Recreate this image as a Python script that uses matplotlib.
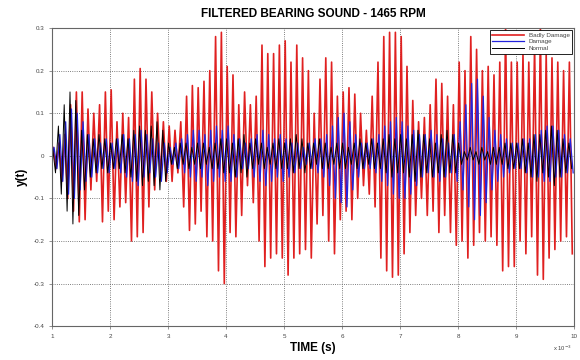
import matplotlib.pyplot as plt
import numpy as np

plt.switch_backend("Agg")
plt.rcParams["font.family"] = ["Liberation Sans", "DejaVu Sans"]

# Peak values, 10 cycles per 1e-3 s unit (t = 1..10 x 1e-3 s)
badly_upper = [
    0.02, 0.03, 0.05, 0.12, 0.15, 0.15, 0.11, 0.10, 0.12, 0.15,
    0.155, 0.08, 0.10, 0.09, 0.18, 0.205, 0.18, 0.15, 0.10, 0.08,
    0.07, 0.06, 0.08, 0.14, 0.165, 0.16, 0.175, 0.20, 0.28, 0.29,
    0.21, 0.19, 0.12, 0.15, 0.12, 0.14, 0.26, 0.24, 0.24, 0.26,
    0.27, 0.22, 0.26, 0.23, 0.20, 0.10, 0.18, 0.23, 0.22, 0.14,
    0.15, 0.16, 0.145, 0.10, 0.06, 0.14, 0.22, 0.28, 0.29, 0.29,
    0.28, 0.21, 0.13, 0.08, 0.09, 0.12, 0.18, 0.17, 0.14, 0.12,
    0.22, 0.20, 0.28, 0.25, 0.20, 0.21, 0.19, 0.22, 0.30, 0.22,
    0.22, 0.24, 0.22, 0.26, 0.30, 0.24, 0.23, 0.22, 0.20, 0.22,
]
badly_lower = [
    -0.03, -0.06, -0.10, -0.13, -0.155, -0.15, -0.08, -0.06, -0.155, -0.13,
    -0.15, -0.12, -0.11, -0.20, -0.19, -0.18, -0.12, -0.08, -0.05, -0.06,
    -0.06, -0.04, -0.12, -0.175, -0.16, -0.13, -0.19, -0.20, -0.27, -0.30,
    -0.18, -0.19, -0.14, -0.07, -0.11, -0.20, -0.26, -0.24, -0.23, -0.24,
    -0.28, -0.24, -0.23, -0.22, -0.24, -0.16, -0.14, -0.20, -0.23, -0.15,
    -0.13, -0.15, -0.10, -0.07, -0.09, -0.12, -0.24, -0.27, -0.285, -0.28,
    -0.23, -0.18, -0.14, -0.10, -0.14, -0.13, -0.18, -0.14, -0.18, -0.21,
    -0.20, -0.24, -0.21, -0.18, -0.20, -0.19, -0.21, -0.27, -0.26, -0.26,
    -0.20, -0.23, -0.19, -0.28, -0.29, -0.24, -0.22, -0.20, -0.19, -0.23,
]

damage_upper = [
    0.02, 0.05, 0.08, 0.11, 0.10, 0.08, 0.05, 0.04, 0.03, 0.04,
    0.03, 0.04, 0.05, 0.04, 0.05, 0.06, 0.05, 0.04, 0.03, 0.03,
    0.02, 0.03, 0.04, 0.05, 0.06, 0.06, 0.05, 0.06, 0.07, 0.06,
    0.07, 0.05, 0.04, 0.03, 0.04, 0.05, 0.06, 0.05, 0.04, 0.05,
    0.04, 0.03, 0.03, 0.02, 0.03, 0.04, 0.04, 0.05, 0.07, 0.09,
    0.10, 0.08, 0.05, 0.03, 0.03, 0.04, 0.05, 0.07, 0.08, 0.09,
    0.08, 0.07, 0.06, 0.05, 0.05, 0.06, 0.05, 0.04, 0.03, 0.05,
    0.08, 0.12, 0.17, 0.18, 0.14, 0.09, 0.06, 0.05, 0.04, 0.03,
    0.03, 0.04, 0.04, 0.05, 0.06, 0.07, 0.07, 0.06, 0.05, 0.04,
]
damage_lower = [
    -0.03, -0.06, -0.09, -0.10, -0.08, -0.06, -0.05, -0.04, -0.03, -0.04,
    -0.03, -0.04, -0.05, -0.06, -0.07, -0.05, -0.04, -0.05, -0.06, -0.04,
    -0.02, -0.03, -0.04, -0.05, -0.06, -0.05, -0.07, -0.06, -0.05, -0.06,
    -0.06, -0.05, -0.03, -0.03, -0.05, -0.06, -0.07, -0.06, -0.05, -0.06,
    -0.05, -0.04, -0.03, -0.02, -0.03, -0.04, -0.05, -0.07, -0.10, -0.11,
    -0.12, -0.08, -0.05, -0.03, -0.03, -0.04, -0.06, -0.07, -0.09, -0.10,
    -0.10, -0.09, -0.07, -0.05, -0.04, -0.05, -0.06, -0.05, -0.04, -0.06,
    -0.08, -0.12, -0.15, -0.14, -0.11, -0.08, -0.06, -0.05, -0.04, -0.03,
    -0.03, -0.04, -0.05, -0.05, -0.06, -0.06, -0.05, -0.05, -0.04, -0.04,
]

normal_upper = [
    0.02, 0.07, 0.12, 0.15, 0.13, 0.06, 0.05, 0.04, 0.05, 0.04,
    0.03, 0.04, 0.05, 0.04, 0.06, 0.07, 0.06, 0.07, 0.08, 0.06,
    0.03, 0.02, 0.03, 0.03, 0.02, 0.03, 0.03, 0.02, 0.03, 0.04,
    0.04, 0.03, 0.04, 0.05, 0.03, 0.04, 0.03, 0.02, 0.03, 0.04,
    0.03, 0.04, 0.05, 0.04, 0.03, 0.03, 0.04, 0.03, 0.02, 0.03,
    0.03, 0.02, 0.03, 0.04, 0.03, 0.04, 0.03, 0.04, 0.05, 0.04,
    0.05, 0.04, 0.05, 0.06, 0.05, 0.04, 0.03, 0.05, 0.06, 0.05,
    0.03, 0.01, 0.02, 0.01, 0.02, 0.01, 0.02, 0.02, 0.03, 0.03,
    0.03, 0.04, 0.03, 0.05, 0.05, 0.06, 0.07, 0.06, 0.04, 0.03,
]
normal_lower = [
    -0.04, -0.09, -0.13, -0.16, -0.14, -0.08, -0.05, -0.04, -0.03, -0.04,
    -0.03, -0.03, -0.04, -0.05, -0.06, -0.07, -0.06, -0.07, -0.08, -0.06,
    -0.02, -0.03, -0.02, -0.03, -0.02, -0.03, -0.02, -0.03, -0.03, -0.04,
    -0.04, -0.05, -0.04, -0.05, -0.03, -0.02, -0.03, -0.02, -0.03, -0.03,
    -0.03, -0.04, -0.03, -0.04, -0.03, -0.02, -0.03, -0.03, -0.02, -0.03,
    -0.03, -0.02, -0.03, -0.03, -0.02, -0.03, -0.03, -0.04, -0.05, -0.04,
    -0.04, -0.05, -0.06, -0.05, -0.04, -0.05, -0.04, -0.05, -0.04, -0.04,
    -0.02, -0.01, -0.01, -0.02, -0.01, -0.02, -0.02, -0.02, -0.03, -0.03,
    -0.03, -0.04, -0.05, -0.06, -0.04, -0.05, -0.07, -0.05, -0.04, -0.03,
]

x_ticks = [1, 2, 3, 4, 5, 6, 7, 8, 9, 10]
y_ticks = [-0.4, -0.3, -0.2, -0.1, 0, 0.1, 0.2, 0.3]
y_tick_labels = ["-0.4", "-0.3", "-0.2", "-0.1", "0", "0.1", "0.2", "0.3"]


def build_trace(upper, lower, phase):
    """Interleave read-off peaks/troughs on a 0.1 (x1e-3 s) cycle grid."""
    k = np.arange(len(upper))
    t = np.column_stack((1 + 0.1 * k + phase, 1 + 0.1 * k + phase + 0.05)).ravel()
    y = np.column_stack((upper, lower)).ravel()
    return np.concatenate(([1.0], t)), np.concatenate(([0.0], y))


fig = plt.figure(figsize=(5.8, 3.6), dpi=100)
ax = fig.add_axes([0.0897, 0.094, 0.90, 0.828])

traces = [
    (badly_upper, badly_lower, 0.02, "#e02020", 1.2, "Badly Damage"),
    (damage_upper, damage_lower, 0.035, "#2222dd", 0.9, "Damage"),
    (normal_upper, normal_lower, 0.01, "#000000", 0.7, "Normal"),
]
for upper, lower, phase, color, lw, label in traces:
    t, y = build_trace(upper, lower, phase)
    ax.plot(t, y, color=color, linewidth=lw, label=label)

ax.set_xlim(1, 10)
ax.set_ylim(-0.4, 0.3)
ax.set_xticks(x_ticks)
ax.set_yticks(y_ticks)
ax.set_yticklabels(y_tick_labels)
ax.tick_params(labelsize=4.5, labelcolor="#444444", colors="#666666", length=2, width=0.5)
ax.grid(True, color="#555555", linestyle=":", linewidth=0.6)
for spine in ax.spines.values():
    spine.set_color("#666666")
    spine.set_linewidth(0.8)

ax.set_title("FILTERED BEARING SOUND - 1465 RPM", fontsize=8.5, fontweight="bold", pad=8)
ax.set_xlabel("TIME (s)", fontsize=8.5, fontweight="bold", labelpad=2)
ax.set_ylabel("y(t)", fontsize=8.5, fontweight="bold", labelpad=4)
ax.text(0.995, -0.075, r"x 10$^{-3}$", transform=ax.transAxes, fontsize=4.2,
        color="#444444", ha="right", va="center")

legend = ax.legend(loc="upper right", fontsize=4.5, handlelength=5, borderpad=0.4,
                   labelspacing=0.2, fancybox=False, framealpha=1, borderaxespad=0.3)
legend.get_frame().set_edgecolor("#000000")
legend.get_frame().set_linewidth(0.6)
plt.setp(legend.get_texts(), color="#444444")

fig.savefig("out.png", dpi=100)
plt.close(fig)
